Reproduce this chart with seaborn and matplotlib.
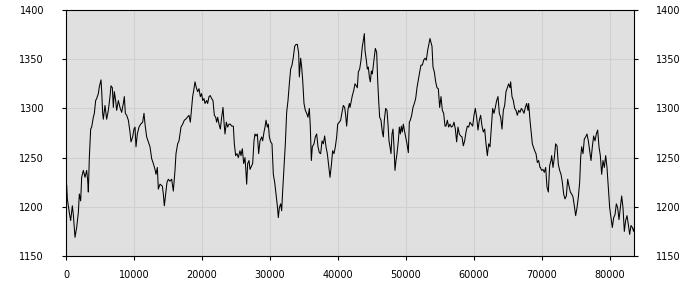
import matplotlib
matplotlib.use("Agg")
import matplotlib.pyplot as plt
import seaborn as sns
import pandas as pd

x_vals = [
    0, 98, 196, 490, 686, 931, 1078, 1324, 1569, 1814, 1961, 2157, 2304, 2549, 2794, 3039, 3186, 3284, 3431, 3627,
    3775, 4020, 4167, 4363, 4510, 4755, 4902, 5147, 5245, 5392, 5490, 5735, 5980, 6226, 6471, 6618, 6814, 6961, 7108, 7304,
    7451, 7696, 7941, 8186, 8431, 8578, 8726, 8922, 9167, 9412, 9559, 9804, 10000, 10147, 10294, 10490, 10735, 10980, 11275, 11471,
    11618, 11863, 12108, 12353, 12598, 12843, 13088, 13235, 13431, 13578, 13824,
    14167, 14314, 14461, 14657, 14853, 15049, 15294, 15539, 15784, 16029, 16176, 16421, 16617, 16912, 17157, 17402, 17598, 17843, 18088,
    18284, 18480, 18627, 18774, 18970, 19166, 19363, 19559, 19755, 19951, 20098, 20294, 20441, 20686, 20833, 21029, 21225, 21421, 21617, 21814,
    22010, 22157, 22304, 22500, 22696, 22892, 23088, 23235, 23382, 23578, 23774, 23970, 24167, 24363, 24608, 24755, 24951, 25147, 25343, 25588,
    25735, 25931, 26127, 26323, 26470, 26568, 26716, 26912,
    27059, 27451, 27647, 27794, 27941, 28137, 28333, 28529, 28775, 28922, 29118, 29265, 29412, 29608, 29755, 29902, 30098, 30294, 30490, 30686,
    30882, 31079, 31226, 31373, 31569, 31716, 31863, 32059, 32255, 32451, 32647, 32843, 33039, 33235, 33431, 33628, 33824, 34020, 34216, 34314,
    34510, 34657, 34804, 35000, 35196, 35392, 35588, 35784, 35931, 36079, 36226, 36471, 36667, 36863, 37059, 37255, 37451, 37647, 37843, 38039,
    38235, 38431, 38628, 38824, 39020, 39216, 39412, 39608, 39804, 39951, 40196, 40392, 40588, 40784, 40980, 41128, 41275, 41471, 41667,
    41765, 41912, 42108, 42304, 42500, 42696, 42843, 42990, 43186, 43382, 43578, 43725, 43872, 43970, 44166, 44313, 44460, 44608, 44755, 44902,
    45049, 45196, 45343, 45490, 45686, 45833, 45980, 46127, 46323, 46519, 46667, 46814, 47010, 47206, 47353, 47500, 47647, 47794, 47941, 48088,
    48235, 48382, 48529, 48676, 48873, 49020, 49167, 49314, 49461, 49608, 49755, 49951, 50147, 50343, 50490, 50637, 50833, 51029, 51225, 51422,
    51618, 51814, 52010, 52206, 52402, 52598, 52794, 52990, 53186, 53382, 53529, 53676, 53824, 53971, 54167, 54363, 54559, 54755, 54951, 55147,
    55343, 55539, 55735,
    55882, 56078, 56275, 56471, 56667, 56863, 57059, 57255, 57451, 57647, 57843, 58039, 58235, 58431, 58627, 58824, 59020, 59216, 59412, 59608,
    59804, 60000, 60196, 60392, 60588, 60784, 60980, 61177, 61373, 61569, 61765, 61961, 62157, 62353, 62549, 62745, 62941, 63137, 63333, 63529,
    63726, 63922, 64118, 64314, 64510, 64706, 64902, 65098, 65294, 65392, 65588, 65784, 65980, 66177, 66373, 66569, 66765, 66961, 67157, 67353,
    67549, 67745, 67941, 68039, 68235, 68431, 68578, 68726, 68922, 69118, 69314, 69510, 69706,
    69755, 69951, 70147, 70343, 70540, 70736, 70932, 71128, 71324, 71422, 71618, 71814, 72010, 72206, 72402, 72598, 72795, 72991, 73187, 73383,
    73579, 73775, 73971, 74167, 74363, 74559, 74755, 74951, 75148, 75344, 75540, 75687, 75834, 76030, 76226, 76422, 76618, 76814, 77010, 77206,
    77402, 77598, 77795, 77991, 78187, 78383, 78579, 78775, 78971, 79167, 79363, 79559, 79755, 79951, 80147, 80343, 80540, 80736, 80932, 81128,
    81324, 81520, 81716, 81912, 82108, 82304, 82500, 82697, 82893, 83089, 83285, 83481, 83579,
]

y_vals = [
    1220, 1222, 1208, 1194, 1186, 1201, 1192, 1169, 1179, 1194, 1213, 1206, 1230, 1237, 1230, 1237, 1227, 1215, 1250, 1279,
    1281, 1291, 1295, 1308, 1310, 1315, 1322, 1329, 1318, 1295, 1289, 1303, 1289, 1298, 1312, 1323, 1321, 1301, 1317, 1308,
    1298, 1308, 1301, 1296, 1305, 1312, 1295, 1293, 1288, 1276, 1266, 1271, 1279, 1281, 1261, 1274, 1281, 1284, 1286, 1295,
    1284, 1271, 1266, 1261, 1249, 1244, 1238, 1233, 1240, 1218, 1223,
    1221, 1213, 1201, 1213, 1225, 1228, 1226, 1228, 1216, 1237, 1254, 1264, 1267, 1281, 1284, 1288, 1289, 1291, 1293,
    1286, 1301, 1312, 1318, 1327, 1321, 1317, 1320, 1312, 1315, 1308, 1310, 1305, 1308, 1305, 1312, 1313, 1310, 1308, 1293,
    1291, 1286, 1291, 1284, 1279, 1291, 1301, 1286, 1274, 1286, 1281, 1284, 1284, 1282, 1282, 1264, 1252, 1254, 1250, 1257,
    1252, 1259, 1244, 1250, 1235, 1223, 1244, 1247,
    1238, 1244, 1267, 1274, 1272, 1274, 1254, 1267, 1271, 1267, 1276, 1281, 1288, 1281, 1284, 1271, 1266, 1264, 1233, 1225,
    1213, 1201, 1189, 1199, 1203, 1196, 1216, 1240, 1264, 1296, 1308, 1325, 1340, 1344, 1352, 1363, 1365, 1365, 1356, 1332,
    1351, 1342, 1329, 1305, 1298, 1295, 1291, 1300, 1281, 1247, 1261, 1264, 1271, 1274, 1261, 1255, 1254, 1267, 1264, 1272,
    1261, 1254, 1242, 1230, 1242, 1257, 1254, 1261, 1271, 1284, 1286, 1288, 1296, 1303, 1301, 1293, 1282, 1299, 1305,
    1301, 1306, 1313, 1318, 1325, 1323, 1321, 1337, 1340, 1349, 1363, 1369, 1376, 1359, 1349, 1340, 1342, 1332, 1327, 1338,
    1335, 1344, 1354, 1361, 1357, 1329, 1308, 1291, 1288, 1276, 1271, 1288, 1300, 1298, 1284, 1267, 1261, 1254, 1274, 1279,
    1261, 1237, 1247, 1254, 1267, 1281, 1274, 1282, 1276, 1284, 1278, 1271, 1264, 1255, 1286, 1288, 1293, 1301, 1305, 1310,
    1321, 1329, 1337, 1344, 1344, 1349, 1351, 1349, 1359, 1366, 1371, 1367, 1363, 1342, 1337, 1327, 1321, 1320, 1301, 1312,
    1298, 1295, 1282,
    1282, 1288, 1281, 1284, 1281, 1282, 1286, 1279, 1266, 1281, 1274, 1272, 1271, 1262, 1267, 1276, 1282, 1281, 1286, 1284,
    1282, 1293, 1300, 1291, 1278, 1288, 1293, 1282, 1276, 1279, 1264, 1252, 1264, 1261, 1281, 1300, 1295, 1301, 1308, 1312,
    1295, 1291, 1279, 1298, 1303, 1317, 1321, 1325, 1321, 1327, 1312, 1308, 1300, 1298, 1293, 1298, 1296, 1300, 1298, 1295,
    1301, 1305, 1298, 1305, 1288, 1274, 1264, 1261, 1257, 1254, 1245, 1247, 1240,
    1240, 1237, 1238, 1235, 1240, 1220, 1215, 1242, 1247, 1252, 1240, 1250, 1264, 1262, 1243, 1237, 1233, 1225, 1213, 1208,
    1211, 1228, 1221, 1215, 1213, 1210, 1201, 1191, 1199, 1210, 1225, 1250, 1261, 1254, 1269, 1271, 1274, 1267, 1257, 1247,
    1261, 1272, 1267, 1274, 1278, 1261, 1252, 1233, 1247, 1240, 1252, 1240, 1220, 1199, 1189, 1179, 1189, 1192, 1203, 1199,
    1187, 1199, 1211, 1199, 1175, 1186, 1191, 1182, 1172, 1181, 1179, 1175, 1179,
]

x_ticks = [0, 10000, 20000, 30000, 40000, 50000, 60000, 70000, 80000]
y_ticks = [1150, 1200, 1250, 1300, 1350, 1400]

df = pd.DataFrame({"x": x_vals, "y": y_vals})

sns.set_theme(style="white")
plt.rcParams["font.family"] = ["DejaVu Sans"]

fig = plt.figure(figsize=(7, 3), dpi=100)
ax = fig.add_axes([66 / 700, 44 / 300, 568 / 700, 246 / 300])
ax.set_facecolor("#e0e0e0")

sns.lineplot(data=df, x="x", y="y", ax=ax, color="black", linewidth=0.75,
             estimator=None, sort=False)

ax.set_xlim(0, 83530)
ax.set_ylim(1150, 1400)
ax.set_xticks(x_ticks)
ax.set_yticks(y_ticks)
ax.set_xticklabels([str(v) for v in x_ticks])
ax.set_yticklabels([str(v) for v in y_ticks])
ax.set_xlabel("")
ax.set_ylabel("")
ax.grid(True, color="#d0d0d0", linewidth=0.8)
ax.set_axisbelow(True)

for s in ax.spines.values():
    s.set_visible(True)
    s.set_color("black")
    s.set_linewidth(0.8)

ax.tick_params(axis="both", which="both", direction="out", length=3, width=0.8,
               color="black", labelsize=7, labelcolor="black")
ax.tick_params(axis="y", left=True, right=True, labelleft=True, labelright=True, pad=12.8)
ax.tick_params(axis="x", bottom=True, pad=7)

fig.savefig("out.png", dpi=100, facecolor="white")
